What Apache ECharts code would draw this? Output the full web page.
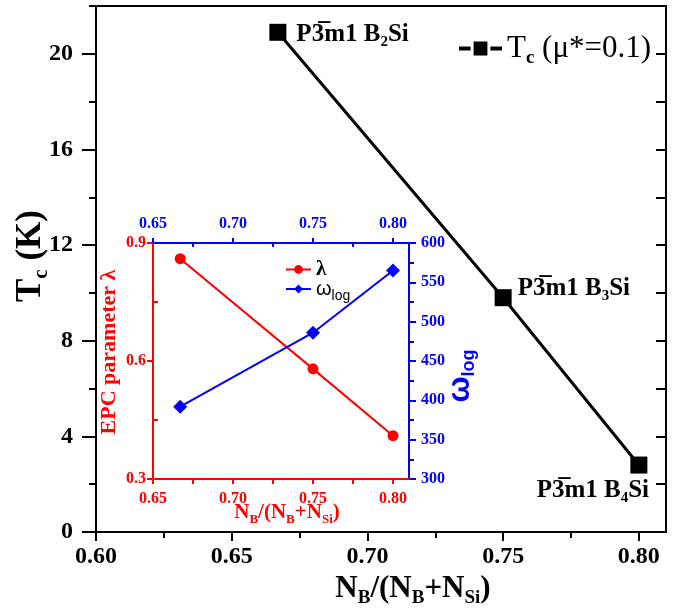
<!DOCTYPE html>
<html><head><meta charset="utf-8">
<script src="https://cdn.jsdelivr.net/npm/echarts@6/dist/echarts.min.js"></script>
<style>html,body{margin:0;padding:0;background:#fff}#c{width:684px;height:614px}</style>
</head><body><div id="c"></div>
<script>
// ---- data ----
const compositions = [0.667, 0.75, 0.80];
const tcValues = [20.9, 9.8, 2.8];
const lambdaValues = [0.86, 0.58, 0.41];
const omegaLogValues = [392, 486, 565];
const phaseLabels = ['P3\u0305m1 B{s|2}Si', 'P3\u0305m1 B{s|3}Si', 'P3\u0305m1 B{s|4}Si'];
// ---- tick values ----
const mainXTicks = [0.60, 0.65, 0.70, 0.75, 0.80];
const mainXMinor = [0.625, 0.675, 0.725, 0.775];
const mainYTicks = [0, 4, 8, 12, 16, 20];
const mainYMinor = [2, 6, 10, 14, 18, 22];
const mainYRight = [2, 4, 6, 8, 10, 12, 14, 16, 18, 20];
const insetXTicks = [0.65, 0.70, 0.75, 0.80];
const insetXMinor = [0.675, 0.725, 0.775];
const lambdaTicks = [0.3, 0.6, 0.9];
const lambdaMinor = [0.45, 0.75];
const omegaTicks = [300, 350, 400, 450, 500, 550, 600];
const omegaMinor = [325, 375, 425, 475, 525, 575];

const SERIF = "'Liberation Serif', 'Times New Roman', serif";
const SANS = "'Liberation Sans', Arial, sans-serif";
const RED = '#ff0000', BLUE = '#0000ff', BLACK = '#000000';

function tickAxis(base) {
  return Object.assign({
    type: 'value', splitLine: { show: false },
    axisLine: { show: false, onZero: false },
    axisLabel: { show: false },
    axisTick: { show: false }
  }, base);
}

const chart = echarts.init(document.getElementById('c'), null, { renderer: 'canvas' });

const mainLabelStyle = { fontFamily: SERIF, fontWeight: 'bold', fontSize: 24, color: BLACK };
const insetLabel = (c) => ({ fontFamily: SERIF, fontWeight: 'bold', fontSize: 16, color: c });

const xAxis = [
  // 0 main bottom
  {
    type: 'value', gridIndex: 0, position: 'bottom', min: 0.60, max: 0.81,
    splitLine: { show: false },
    axisLine: { show: true, onZero: false, lineStyle: { color: BLACK, width: 2 } },
    axisTick: { show: true, customValues: mainXTicks, length: 9, lineStyle: { color: BLACK, width: 2 } },
    axisLabel: Object.assign({ customValues: mainXTicks, margin: 13, formatter: v => v.toFixed(2) }, mainLabelStyle),
    name: 'N{s|B}/(N{s|B}+N{s|Si})', nameLocation: 'middle', nameGap: 38, nameMoveOverlap: false,
    nameTextStyle: { fontFamily: SERIF, fontWeight: 'bold', fontSize: 31, color: BLACK, padding: [0, 0, 0, 64],
      rich: { s: { fontFamily: SERIF, fontWeight: 'bold', fontSize: 19, color: BLACK, padding: [19, 0, 0, 0] } } }
  },
  // 1 main bottom minor
  tickAxis({ gridIndex: 0, position: 'bottom', min: 0.60, max: 0.81,
    axisTick: { show: true, customValues: mainXMinor, length: 6, lineStyle: { color: BLACK, width: 2 } } }),
  // 2 main top border
  tickAxis({ gridIndex: 0, position: 'top', min: 0.60, max: 0.81,
    axisLine: { show: true, onZero: false, lineStyle: { color: BLACK, width: 2 } } }),
  // 3 inset bottom
  {
    type: 'value', gridIndex: 1, position: 'bottom', min: 0.65, max: 0.81,
    splitLine: { show: false },
    axisLine: { show: true, onZero: false, lineStyle: { color: RED, width: 2 } },
    axisTick: { show: true, customValues: insetXTicks.concat(insetXMinor), length: 5, lineStyle: { color: RED, width: 2 } },
    axisLabel: Object.assign({ customValues: insetXTicks, margin: 12, formatter: v => v.toFixed(2) }, insetLabel(RED)),
    name: 'N{s|B}/(N{s|B}+N{s|Si})', nameLocation: 'middle', nameGap: 21, nameMoveOverlap: false,
    nameTextStyle: { fontFamily: SERIF, fontWeight: 'bold', fontSize: 21, color: RED, padding: [0, 0, 0, 12],
      rich: { s: { fontFamily: SERIF, fontWeight: 'bold', fontSize: 13, color: RED, padding: [13, 0, 0, 0] } } }
  },
  // 4 inset top
  {
    type: 'value', gridIndex: 1, position: 'top', min: 0.65, max: 0.81,
    splitLine: { show: false },
    axisLine: { show: true, onZero: false, lineStyle: { color: BLUE, width: 2 } },
    axisTick: { show: true, customValues: insetXTicks, length: 5, lineStyle: { color: BLUE, width: 2 } },
    axisLabel: Object.assign({ customValues: insetXTicks, margin: 11, formatter: v => v.toFixed(2) }, insetLabel(BLUE))
  },
  // 5 inset top minor (inside)
  tickAxis({ gridIndex: 1, position: 'top', min: 0.65, max: 0.81,
    axisTick: { show: true, inside: true, customValues: insetXMinor, length: 4, lineStyle: { color: BLUE, width: 2 } } })
];

const yAxis = [
  // 0 main left
  {
    type: 'value', gridIndex: 0, position: 'left', min: 0, max: 22,
    splitLine: { show: false },
    axisLine: { show: true, onZero: false, lineStyle: { color: BLACK, width: 2 } },
    axisTick: { show: true, customValues: mainYTicks, length: 14, lineStyle: { color: BLACK, width: 2 } },
    axisLabel: Object.assign({ customValues: mainYTicks, margin: 23 }, mainLabelStyle),
    name: 'T{s|c} (K)', nameLocation: 'middle', nameRotate: 90, nameGap: 44, nameMoveOverlap: false,
    nameTextStyle: { fontFamily: SERIF, fontWeight: 'bold', fontSize: 35, color: BLACK, padding: [0, 0, 0, 26],
      rich: { s: { fontFamily: SERIF, fontWeight: 'bold', fontSize: 21, color: BLACK, padding: [21, 0, 0, 0] } } }
  },
  // 1 main left minor
  tickAxis({ gridIndex: 0, position: 'left', min: 0, max: 22,
    axisTick: { show: true, customValues: mainYMinor, length: 7, lineStyle: { color: BLACK, width: 2 } } }),
  // 2 main right border
  tickAxis({ gridIndex: 0, position: 'right', min: 0, max: 22,
    axisLine: { show: true, onZero: false, lineStyle: { color: BLACK, width: 2 } },
    axisTick: { show: true, inside: true, customValues: mainYRight, length: 10, lineStyle: { color: BLACK, width: 2 } } }),
  // 3 inset left (lambda)
  {
    type: 'value', gridIndex: 1, position: 'left', min: 0.3, max: 0.9,
    splitLine: { show: false },
    axisLine: { show: true, onZero: false, lineStyle: { color: RED, width: 2 } },
    axisTick: { show: true, customValues: lambdaTicks, length: 6, lineStyle: { color: RED, width: 2 } },
    axisLabel: Object.assign({ customValues: lambdaTicks, margin: 7, formatter: v => v.toFixed(1) }, insetLabel(RED)),
    name: 'EPC parameter λ', nameLocation: 'middle', nameRotate: 90, nameGap: 33, nameMoveOverlap: false,
    nameTextStyle: { fontFamily: SERIF, fontWeight: 'bold', fontSize: 22, color: RED, padding: [0, 0, 0, 18] }
  },
  // 4 inset left minor (inside)
  tickAxis({ gridIndex: 1, position: 'left', min: 0.3, max: 0.9,
    axisTick: { show: true, inside: true, customValues: lambdaMinor, length: 5, lineStyle: { color: RED, width: 2 } } }),
  // 5 inset right (omega_log)
  {
    type: 'value', gridIndex: 1, position: 'right', min: 300, max: 600,
    splitLine: { show: false },
    axisLine: { show: true, onZero: false, lineStyle: { color: BLUE, width: 2 } },
    axisTick: { show: true, customValues: omegaTicks, length: 7, lineStyle: { color: BLUE, width: 2 } },
    axisLabel: Object.assign({ customValues: omegaTicks, margin: 12 }, insetLabel(BLUE)),
    name: 'ω{s|log}', nameLocation: 'middle', nameRotate: 90, nameGap: 33, nameMoveOverlap: false,
    nameTextStyle: { fontFamily: SANS, fontWeight: 'bold', fontSize: 31, color: BLUE, padding: [0, 30, 0, 0],
      rich: { s: { fontFamily: SANS, fontWeight: 'bold', fontSize: 18, color: BLUE, padding: [18, 0, 0, 0] } } }
  },
  // 6 inset right minor
  tickAxis({ gridIndex: 1, position: 'right', min: 300, max: 600,
    axisTick: { show: true, customValues: omegaMinor, length: 5, lineStyle: { color: BLUE, width: 2 } } })
];

const labelRich = { s: { fontFamily: SERIF, fontWeight: 'bold', fontSize: 15, color: BLACK, padding: [15, 0, 0, 0] } };
const labelPlacement = [
  { position: 'right', distance: 10, offset: [0, 2] },
  { position: 'right', distance: 6, offset: [0, -9] },
  { position: 'bottom', distance: 2, offset: [-46, 0] }
];

const tcData = compositions.map((x, i) => ({
  value: [x, tcValues[i]],
  label: Object.assign({
    show: true, formatter: phaseLabels[i],
    fontFamily: SERIF, fontWeight: 'bold', fontSize: 25, color: BLACK, rich: labelRich
  }, labelPlacement[i])
}));

const option = {
  animation: false,
  backgroundColor: '#ffffff',
  textStyle: { fontFamily: SERIF },
  grid: [
    { left: 96, top: 6, right: 18, bottom: 82, containLabel: false, outerBoundsMode: 'none' },
    { left: 153, top: 243, right: 275, bottom: 135, containLabel: false, outerBoundsMode: 'none' }
  ],
  xAxis, yAxis,
  legend: [
    { data: ['Tc'], left: 457, top: 33, padding: 0, itemWidth: 43, itemHeight: 21, selectedMode: false,
      lineStyle: { width: 4 },
      itemStyle: { borderColor: '#ffffff', borderWidth: 3 },
      formatter: () => 'T{s|c} (μ*=0.1)',
      textStyle: { fontFamily: SERIF, fontSize: 31, color: BLACK,
        rich: { s: { fontFamily: SERIF, fontWeight: 'bold', fontSize: 19, color: BLACK, padding: [19, 0, 0, 0] } } } },
    { data: ['lambda'], left: 285, top: 259, padding: 0, itemWidth: 25, itemHeight: 11, selectedMode: false,
      formatter: () => 'λ',
      textStyle: { fontFamily: SERIF, fontWeight: 'bold', fontSize: 21, color: BLACK } },
    { data: ['omega'], left: 285, top: 279, padding: 0, itemWidth: 25, itemHeight: 11, selectedMode: false,
      formatter: () => 'ω{s|log}',
      textStyle: { fontFamily: SANS, fontSize: 20, color: BLACK,
        rich: { s: { fontFamily: SANS, fontSize: 14, color: BLACK, padding: [14, 0, 0, 0] } } } }
  ],
  series: [
    { name: 'Tc', type: 'line', xAxisIndex: 0, yAxisIndex: 0, data: tcData,
      symbol: 'rect', symbolSize: 17, z: 5,
      lineStyle: { color: BLACK, width: 3 }, itemStyle: { color: BLACK } },
    { name: 'lambda', type: 'line', xAxisIndex: 3, yAxisIndex: 3,
      data: compositions.map((x, i) => [x, lambdaValues[i]]),
      symbol: 'circle', symbolSize: 11,
      lineStyle: { color: RED, width: 2 }, itemStyle: { color: RED } },
    { name: 'omega', type: 'line', xAxisIndex: 3, yAxisIndex: 5,
      data: compositions.map((x, i) => [x, omegaLogValues[i]]),
      symbol: 'diamond', symbolSize: 14,
      lineStyle: { color: BLUE, width: 2 }, itemStyle: { color: BLUE } }
  ]
};
chart.setOption(option);
</script>
</body></html>
